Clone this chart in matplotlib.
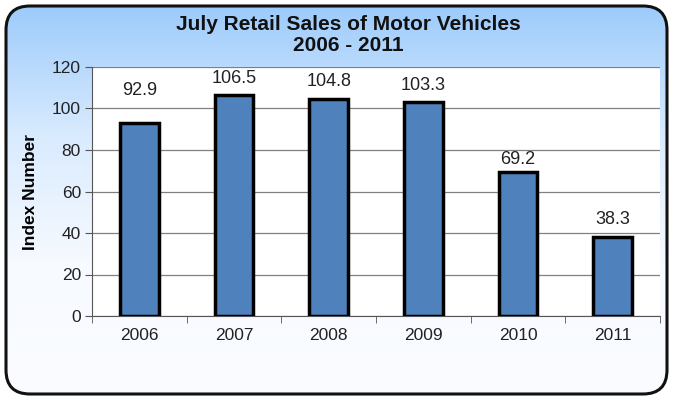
import matplotlib
matplotlib.use("Agg")
import matplotlib.pyplot as plt
import numpy as np
from matplotlib.patches import FancyBboxPatch
from matplotlib.colors import LinearSegmentedColormap

years = ["2006", "2007", "2008", "2009", "2010", "2011"]
values = [92.9, 106.5, 104.8, 103.3, 69.2, 38.3]
yticks = [0, 20, 40, 60, 80, 100, 120]
title = "July Retail Sales of Motor Vehicles\n2006 - 2011"
ylabel = "Index Number"

plt.rcParams['font.family'] = ['Liberation Sans', 'DejaVu Sans']

W, H = 673, 400
fig = plt.figure(figsize=(W / 100, H / 100), dpi=100)
fig.patch.set_facecolor("white")

# background with gradient, clipped to rounded rect
bg = fig.add_axes([0, 0, 1, 1])
bg.set_xlim(0, W)
bg.set_ylim(H, 0)
bg.axis("off")
cmap = LinearSegmentedColormap.from_list("bgc", ["#9DCBFB", "#D9EBFE", "#F7FAFF", "#FAFCFF"], N=256)
grad = np.linspace(0, 1, 256).reshape(-1, 1)
box = FancyBboxPatch((6, 6), W - 12, H - 12, boxstyle="round,pad=0,rounding_size=24",
                     facecolor="none", edgecolor="#111111", linewidth=2.2, zorder=3)
bg.add_patch(box)
im = bg.imshow(grad, cmap=cmap, extent=[6, W - 6, H - 6, 6], aspect="auto", zorder=1)
im.set_clip_path(box)

bg.text(348, 35, title, ha="center", va="center", fontsize=15, fontweight="bold",
        linespacing=1.08, color="#111111")

# plot area (pixels)
ax = fig.add_axes([92 / W, 1 - 316 / H, (660 - 92) / W, (316 - 67) / H])
ax.set_facecolor("white")
x = np.arange(len(years))
ax.bar(x, values, width=0.41, color="#4F81BD", edgecolor="black", linewidth=2.5, zorder=3)
ax.set_xlim(-0.5, len(years) - 0.5)
ax.set_ylim(0, 120)
ax.set_yticks(yticks)
ax.set_yticklabels([str(t) for t in yticks], fontsize=12.5)
ax.yaxis.grid(True, color="#808080", linewidth=0.9, zorder=0)
ax.set_axisbelow(True)
for s in ["top", "right"]:
    ax.spines[s].set_visible(False)
ax.spines["left"].set_color("#555555")
ax.spines["bottom"].set_color("#555555")
ax.tick_params(axis="y", length=5, color="#555555", pad=3, labelcolor="#222222")
ax.set_xticks(x)
ax.set_xticklabels(years, fontsize=12.5, color="#222222")
ax.tick_params(axis="x", length=0, pad=9)
ax.set_xticks(np.arange(-0.5, len(years)), minor=True)
ax.tick_params(axis="x", which="minor", length=5, color="#555555")
ax.set_ylabel(ylabel, fontsize=12.5, fontweight="bold", labelpad=10)

label_offsets = [16, 8, 8, 8, 6, 8]
for xi, v, off in zip(x, values, label_offsets):
    ax.text(xi, v + off, f"{v:.1f}", ha="center", va="center", fontsize=13, color="#222222", zorder=4)

fig.savefig("out.png", dpi=100, facecolor="white")
